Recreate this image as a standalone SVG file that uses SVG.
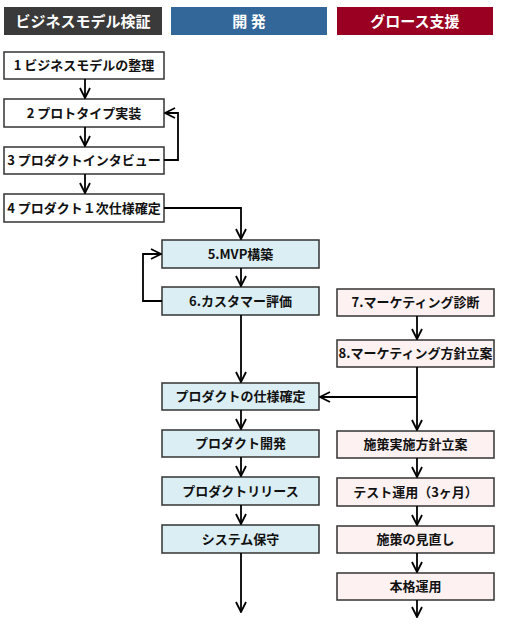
<svg xmlns="http://www.w3.org/2000/svg" width="512" height="624" viewBox="0 0 512 624">
<defs>
<marker id="ah" viewBox="0 0 12 12" refX="11" refY="6" markerWidth="12" markerHeight="12" markerUnits="userSpaceOnUse" orient="auto">
<path d="M1,1 L11,6 L1,11" fill="none" stroke="#000" stroke-width="1.8"/>
</marker>
<style>
.hd{font-family:"Noto Sans CJK JP","Noto Sans",sans-serif;font-weight:bold;font-size:15px;fill:#fff;text-anchor:middle}
.t{font-family:"Noto Sans CJK JP","Noto Sans",sans-serif;font-weight:bold;font-size:13px;fill:#111;text-anchor:middle}
.bm{fill:#fff;stroke:#333;stroke-width:1.5}
.dv{fill:#dbeef4;stroke:#333;stroke-width:1.5}
.gr{fill:#fdf1f2;stroke:#333;stroke-width:1.5}
.c{fill:none;stroke:#000;stroke-width:1.8}
</style>
</defs>
<rect width="512" height="624" fill="#fff"/>
<g id="header-bm"><rect x="4" y="7" width="158" height="28" fill="#3a3a3a"/><text class="hd" x="83" y="26.5">ビジネスモデル検証</text></g>
<g id="header-dev"><rect x="171" y="7" width="156" height="28" fill="#336699"/><text class="hd" x="249" y="26.5">開 発</text></g>
<g id="header-growth"><rect x="337" y="7" width="156" height="28" fill="#990022"/><text class="hd" x="415" y="26.5">グロース支援</text></g>

<g id="n1"><rect class="bm" x="4" y="52" width="160" height="27"/><text class="t" x="84" y="70">1 ビジネスモデルの整理</text></g>
<g id="n2"><rect class="bm" x="4" y="99" width="160" height="28"/><text class="t" x="84" y="117.5">2 プロトタイプ実装</text></g>
<g id="n3"><rect class="bm" x="4" y="147" width="160" height="27"/><text class="t" x="84" y="165">3 プロダクトインタビュー</text></g>
<g id="n4"><rect class="bm" x="4" y="194" width="160" height="28"/><text class="t" x="84" y="212.5">4 プロダクト１次仕様確定</text></g>

<g id="n5"><rect class="dv" x="162" y="240" width="157" height="28"/><text class="t" x="240.5" y="258.5">5.MVP構築</text></g>
<g id="n6"><rect class="dv" x="162" y="287" width="157" height="28"/><text class="t" x="240.5" y="305.5">6.カスタマー評価</text></g>
<g id="n9"><rect class="dv" x="162" y="383" width="157" height="27"/><text class="t" x="240.5" y="401">プロダクトの仕様確定</text></g>
<g id="n10"><rect class="dv" x="162" y="430" width="157" height="27"/><text class="t" x="240.5" y="448">プロダクト開発</text></g>
<g id="n11"><rect class="dv" x="162" y="477" width="157" height="28"/><text class="t" x="240.5" y="495.5">プロダクトリリース</text></g>
<g id="n12"><rect class="dv" x="162" y="525" width="157" height="28"/><text class="t" x="240.5" y="543.5">システム保守</text></g>

<g id="n7"><rect class="gr" x="337" y="289" width="157" height="27"/><text class="t" x="415.5" y="307">7.マーケティング診断</text></g>
<g id="n8"><rect class="gr" x="337" y="340" width="157" height="27"/><text class="t" x="415.5" y="358">8.マーケティング方針立案</text></g>
<g id="n13"><rect class="gr" x="337" y="431" width="157" height="27"/><text class="t" x="415.5" y="449">施策実施方針立案</text></g>
<g id="n14"><rect class="gr" x="337" y="478" width="157" height="28"/><text class="t" x="415.5" y="496.5">テスト運用（3ヶ月）</text></g>
<g id="n15"><rect class="gr" x="337" y="526" width="157" height="27"/><text class="t" x="415.5" y="544">施策の見直し</text></g>
<g id="n16"><rect class="gr" x="337" y="573" width="157" height="27"/><text class="t" x="415.5" y="591">本格運用</text></g>

<g id="connectors">
<path class="c" d="M85,79 V98" marker-end="url(#ah)"/>
<path class="c" d="M85,127 V146" marker-end="url(#ah)"/>
<path class="c" d="M85,174 V193" marker-end="url(#ah)"/>
<path class="c" d="M164,160 H178 V113 H165" marker-end="url(#ah)"/>
<path class="c" d="M164,208 H241 V239" marker-end="url(#ah)"/>
<path class="c" d="M241,268 V286" marker-end="url(#ah)"/>
<path class="c" d="M162,301 H143 V254 H161" marker-end="url(#ah)"/>
<path class="c" d="M241,315 V382" marker-end="url(#ah)"/>
<path class="c" d="M241,410 V429" marker-end="url(#ah)"/>
<path class="c" d="M241,457 V476" marker-end="url(#ah)"/>
<path class="c" d="M241,505 V524" marker-end="url(#ah)"/>
<path class="c" d="M241,553 V612" marker-end="url(#ah)"/>
<path class="c" d="M417,316 V339" marker-end="url(#ah)"/>
<path class="c" d="M417,367 V430" marker-end="url(#ah)"/>
<path class="c" d="M417,397 H320" marker-end="url(#ah)"/>
<path class="c" d="M417,458 V477" marker-end="url(#ah)"/>
<path class="c" d="M417,506 V525" marker-end="url(#ah)"/>
<path class="c" d="M417,553 V572" marker-end="url(#ah)"/>
<path class="c" d="M417,600 V617" marker-end="url(#ah)"/>
</g>
</svg>
